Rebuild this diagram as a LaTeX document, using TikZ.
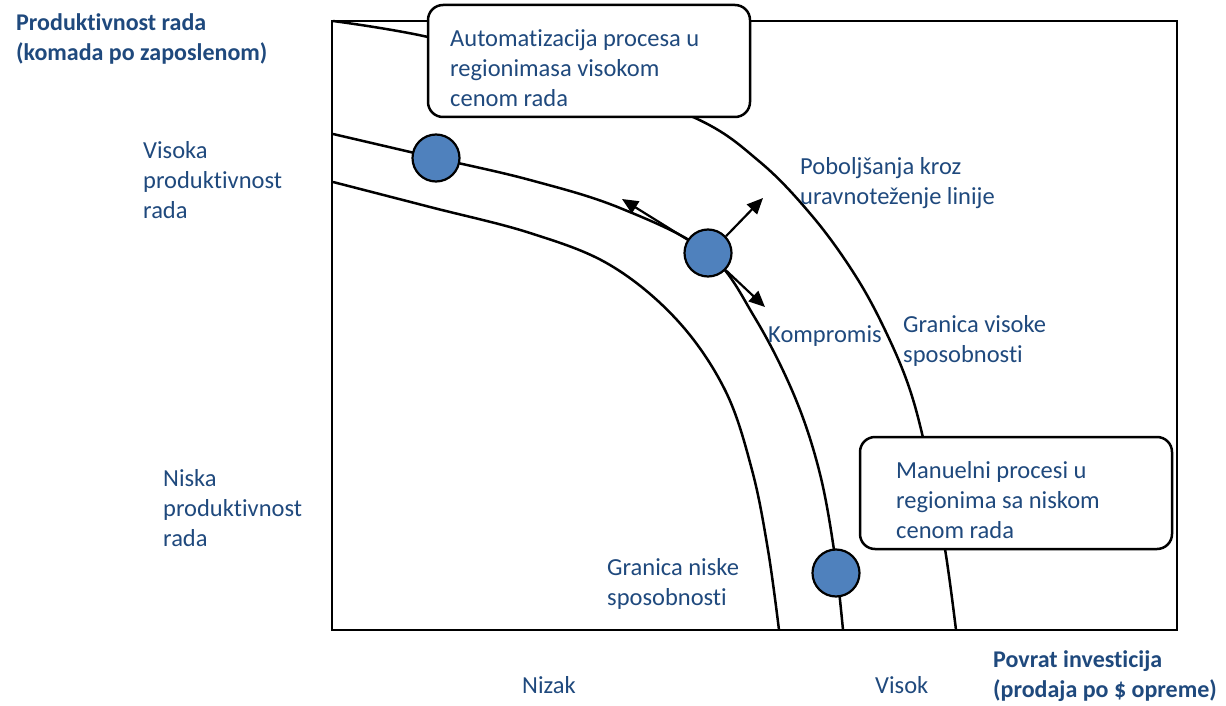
\documentclass[tikz,border=0pt]{standalone}
\usepackage{fontspec}
\setmainfont{Carlito}[Ligatures=NoCommon]
\usetikzlibrary{arrows.meta}
\definecolor{labelblue}{RGB}{31,73,125}
\definecolor{dotblue}{RGB}{79,129,189}
\begin{document}
\begin{tikzpicture}[x=1pt,y=-1pt,
  % multi-line labels are placed by the baseline of their last line
  lbl/.style={text=labelblue, font=\fontsize{24.5}{30}\selectfont, align=left, anchor=base west, inner sep=0pt},
  axlbl/.style={text=labelblue, font=\fontsize{24}{30}\selectfont\bfseries, align=left, anchor=base west, inner sep=0pt},
  curve/.style={line width=2.5pt},
  callout/.style={draw, line width=2.5pt, rounded corners=15pt, fill=white},
  dot/.style={circle, draw, line width=2.2pt, fill=dotblue, minimum size=47pt, inner sep=0pt},
  push/.style={line width=2.2pt, -{Triangle[length=16pt,width=14pt]}}
]
\useasboundingbox (0,0) rectangle (1226,706);

% plot frame
\draw[line width=2.5pt] (332,21) rectangle (1177,630);

% frontiers
\draw[curve] plot[smooth, tension=0.6] coordinates {(333,21) (428,37) (560,72) (693,117) (760,162) (813,217) (855,275) (885,330) (910,390) (928,460) (945,549) (956,630)};
\draw[curve] plot[smooth, tension=0.6] coordinates {(333,134) (436,158) (530,180) (620,208) (708,253) (755,318) (794,395) (819,470) (834,550) (843,630)};
\draw[curve] plot[smooth, tension=0.6] coordinates {(333,182) (430,207) (530,233) (610,265) (677,320) (725,390) (752,470) (768,550) (779,630)};

% callouts
\draw[callout] (428,5) rectangle (750,117);
\draw[callout] (860,437) rectangle (1172,549);
\node[lbl] (auto) at (450,107) {Automatizacija procesa u\\regionimasa visokom\\cenom rada};
\node[lbl] (manual) at (896,538) {Manuelni procesi u\\regionima sa niskom\\cenom rada};

% operating points
\node[dot] (p1) at (436,158) {};
\node[dot] (p2) at (708,253) {};
\node[dot] (p3) at (836,573) {};

% directions of improvement
\coordinate (tipback) at (622,199);
\coordinate (tipup) at (763,198);
\coordinate (tipdown) at (765,307);
\draw[push] (p2.147) -- (tipback);
\draw[push] (p2.43) -- (tipup);
\draw[push] (p2.-44) -- (tipdown);

% labels
\node[axlbl] (ylab) at (16,61) {Produktivnost rada\\(komada po zaposlenom)};
\node[axlbl] (xlab) at (993,697) {Povrat investicija\\(prodaja po \$ opreme)};
\node[lbl] (hi) at (143,218) {Visoka\\produktivnost\\rada};
\node[lbl] (lo) at (163,546) {Niska\\produktivnost\\rada};
\node[lbl] (bal) at (800,204) {Poboljšanja kroz\\uravnoteženje linije};
\node[lbl] (trade) at (768,342) {Kompromis};
\node[lbl] (high) at (903,362) {Granica visoke\\sposobnosti};
\node[lbl] (low) at (607,605) {Granica niske\\sposobnosti};
\node[lbl] (nizak) at (522,693) {Nizak};
\node[lbl] (visok) at (875,693) {Visok};
\end{tikzpicture}
\end{document}
